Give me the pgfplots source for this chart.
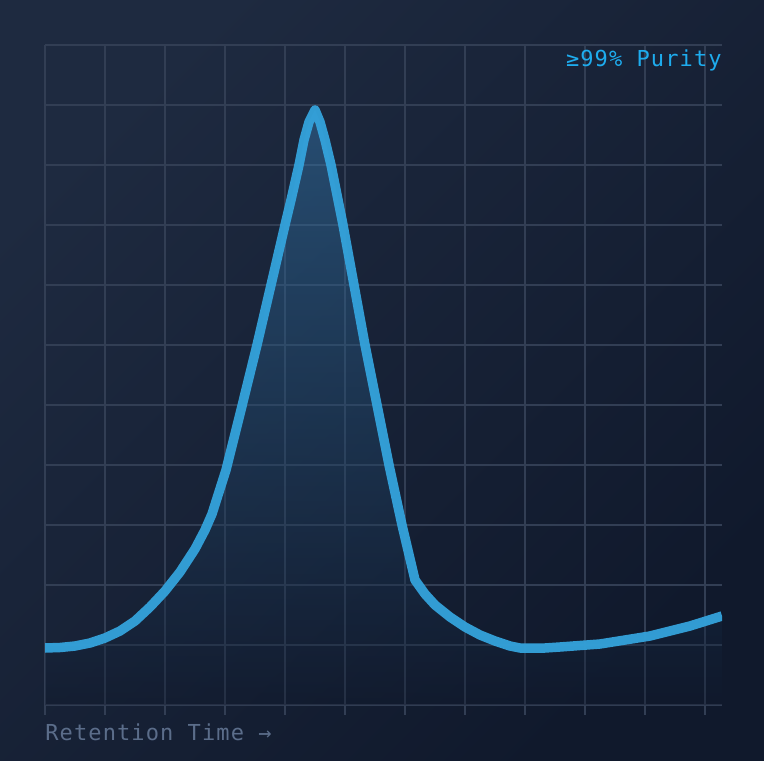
\documentclass[border=0pt]{standalone}
\usepackage{pgfplots}
\pgfplotsset{compat=1.18}
\usepackage{fontspec}
\newfontfamily\monof[LetterSpace=5]{DejaVu Sans Mono}
\definecolor{bgA}{HTML}{1E2A40}
\definecolor{bgB}{HTML}{10192C}
\definecolor{gridc}{HTML}{323E54}
\definecolor{linec}{HTML}{34A3DC}
\definecolor{purc}{HTML}{1EACEE}
\definecolor{labc}{HTML}{5B6D8A}
\definecolor{fillc}{HTML}{3A8CC8}
\pgfplotstableread{
x y
0 57
15 57.5
30 59
45 62
60 67
75 74
90 84
105 98
120 114
135 133
150 156
160 175
167 191
181 235
196 295
212 360
226 420
240 480
246 505
254 540
259 565
264 583
270 595
275 583
280 565
286 540
293 505
298 480
309 420
320 360
332 300
344 240
357 180
370 125
380 111
390 100
405 88
420 78
435 70
450 64
465 59
475 57
500 57
515 58
555 61
605 69
645 79
677 89
}\peak
\begin{document}
\begin{tikzpicture}
\shade[top color=bgA, bottom color=bgB, shading angle=45] (0,0) rectangle (382pt,380pt);
\begin{axis}[
  at={(22.5pt,22.5pt)}, anchor=south west,
  scale only axis, width=338.5pt, height=335pt,
  xmin=0, xmax=677, ymin=-10, ymax=660,
  xtick={0,60,...,660}, ytick={0,60,...,660},
  xticklabels=\empty, yticklabels=\empty,
  tick style={draw=none},
  axis line style={draw=none},
  grid=major,
  major grid style={color=gridc, line width=1pt},
]
\addplot[draw=none, top color=fillc, bottom color=bgB, fill opacity=0.38] table {\peak} \closedcycle;
\addplot[color=linec, line width=4.75pt, opacity=0.95, line join=round] table {\peak};
\end{axis}
\node[anchor=base east, inner sep=0pt, text=purc, font=\monof\fontsize{11pt}{13pt}\selectfont] at (361pt,346.5pt) {≥99\% Purity};
\node[anchor=base west, inner sep=0pt, text=labc, font=\monof\fontsize{11pt}{13pt}\selectfont] at (22.5pt,10pt) {Retention Time →};
\end{tikzpicture}
\end{document}
